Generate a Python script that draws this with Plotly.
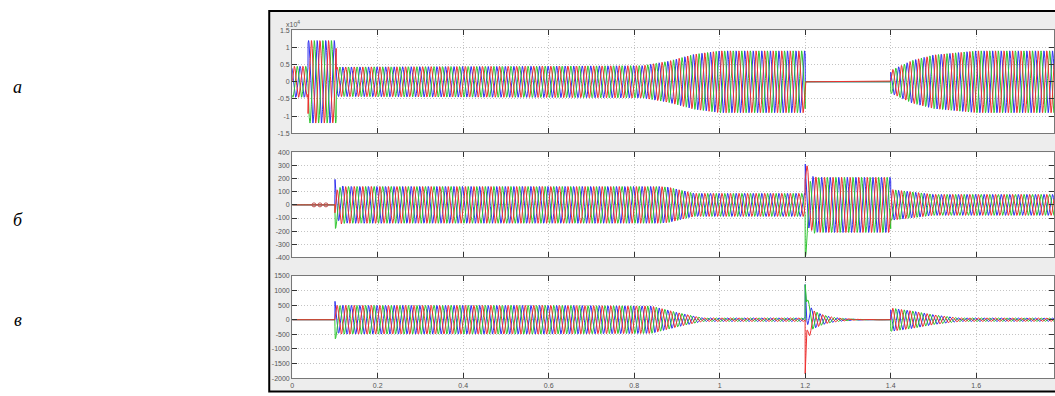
import numpy as np
import plotly.graph_objects as go

# ---------------- data ----------------
F_HZ = 50.0          # carrier frequency of the three-phase waves
T_END = 1.782        # right edge of the visible window (s)
DT = 0.0002

PHASE_NAMES = ["A", "B", "C"]
PHASE_COLORS = ["#ee3030", "#2fc62f", "#3030ee"]

# panel а: voltage, units of 10^4  (envelope breakpoints)
a_env_t = [0, 0.037, 0.0371, 0.103, 0.1031, 0.5, 0.82, 0.88, 0.94, 1.0, 1.2, 1.2001, 1.4, 1.4001, 1.45, 1.5, 1.6, 1.782]
a_env_v = [0.45, 0.45, 1.2, 1.2, 0.43, 0.45, 0.47, 0.6, 0.8, 0.9, 0.9, 0.0, 0.0, 0.33, 0.62, 0.78, 0.9, 0.9]

# panel б: current (envelope breakpoints)
b_env_t = [0, 0.1, 0.1001, 0.86, 0.88, 0.94, 1.2, 1.2001, 1.4, 1.4001, 1.5, 1.782]
b_env_v = [0, 0, 140, 140, 135, 88, 88, 210, 210, 118, 80, 80]
b_trans_t = [0.1, 1.2]
b_trans_r = [-60, 190]
b_trans_g = [-50, -220]
b_trans_b = [80, 140]
b_trans_tau = [0.006, 0.006]
b_marks_t = [0.051, 0.065, 0.079]

# panel в: current (envelope breakpoints)
c_env_t = [0, 0.1, 0.1001, 0.6, 0.84, 0.9, 0.96, 1.2, 1.2001, 1.4, 1.4001, 1.45, 1.5, 1.56, 1.782]
c_env_v = [0, 0, 490, 490, 470, 250, 60, 60, 0, 0, 400, 300, 170, 60, 55]
c_trans_t = [0.1, 1.2]
c_trans_r = [0, -1850]
c_trans_g = [-220, 1250]
c_trans_b = [230, 1150]
c_trans_tau = [0.004, 0.004]
c_ring_t = [1.2]
c_ring_amp = [560]
c_ring_tau = [0.035]

a_ticks = [-1.5, -1, -0.5, 0, 0.5, 1, 1.5]
a_ticktext = ["-1.5", "-1", "-0.5", "0", "0.5", "1", "1.5"]
b_ticks = [-400, -300, -200, -100, 0, 100, 200, 300, 400]
c_ticks = [-2000, -1500, -1000, -500, 0, 500, 1000, 1500]
x_ticks = [0, 0.2, 0.4, 0.6, 0.8, 1.0, 1.2, 1.4, 1.6]
x_ticktext = ["0", "0.2", "0.4", "0.6", "0.8", "1", "1.2", "1.4", "1.6"]
panel_labels = ["а", "б", "в"]

# ---------------- build waveforms ----------------
t = np.arange(0, T_END + DT / 2, DT)
w = 2 * np.pi * F_HZ


def waves(env_t, env_v, trans=None, ring=None):
    env = np.interp(t, env_t, env_v)
    out = []
    for k in range(3):
        ph = -2 * np.pi * k / 3
        y = env * np.sin(w * t + ph)
        if trans is not None:
            tt, peaks, taus = trans
            for i, t0 in enumerate(tt):
                m = t >= t0 - 1e-9
                y[m] += peaks[k][i] * np.exp(-(t[m] - t0) / taus[i])
        if ring is not None:
            rt, ramp, rtau = ring
            for i, t0 in enumerate(rt):
                m = t >= t0 - 1e-9
                y[m] += ramp[i] * np.exp(-(t[m] - t0) / rtau[i]) * np.sin(w * (t[m] - t0) + ph + 1.2) * np.clip((t[m] - t0) / 0.004, 0, 1)
        out.append(y)
    return out


ya = waves(a_env_t, a_env_v)
yb = waves(b_env_t, b_env_v, trans=(b_trans_t, [b_trans_r, b_trans_g, b_trans_b], b_trans_tau))
yc = waves(c_env_t, c_env_v,
           trans=(c_trans_t, [c_trans_r, c_trans_g, c_trans_b], c_trans_tau),
           ring=(c_ring_t, c_ring_amp, c_ring_tau))

W, H = 1055, 396


def px(x):
    return x / W


def py(y):
    return 1 - y / H


fig = go.Figure()
order = [2, 1, 0]  # red on top
for idx, ys in enumerate([ya, yb, yc]):
    sfx = "" if idx == 0 else str(idx + 1)
    for k in order:
        fig.add_trace(go.Scatter(x=t, y=ys[k], mode="lines",
                                 line=dict(color=PHASE_COLORS[k], width=1),
                                 xaxis="x" + sfx, yaxis="y" + sfx,
                                 showlegend=False, hoverinfo="skip"))

fig.add_trace(go.Scatter(x=b_marks_t, y=[0] * len(b_marks_t), mode="markers",
                         marker=dict(symbol="circle-open", size=4, color="#c05050", line=dict(width=1)),
                         xaxis="x2", yaxis="y2", showlegend=False, hoverinfo="skip"))

x_left = px(291)
panels = [(26.7, 131.7), (151, 258), (276.7, 381)]
yranges = [[-1.5, 1.5], [-400, 400], [-2000, 1500]]
ytv = [a_ticks, b_ticks, c_ticks]
ytt = [a_ticktext, [str(v) for v in b_ticks], [str(v) for v in c_ticks]]

tickfont = dict(family="Liberation Sans", size=7, color="#555")
layout = dict(width=W, height=H, autosize=False,
              margin=dict(l=0, r=0, t=0, b=0),
              paper_bgcolor="white", plot_bgcolor="rgba(0,0,0,0)")

grid = dict(showgrid=True, gridcolor="#c4c4c4", griddash="1px,2px", gridwidth=1)
for i in range(3):
    sfx = "" if i == 0 else str(i + 1)
    top, bot = panels[i]
    layout["xaxis" + sfx] = dict(domain=[x_left, 1.0], range=[0, T_END], anchor="y" + sfx,
                                 tickvals=x_ticks, ticktext=x_ticktext,
                                 showticklabels=(i == 2), ticks="inside", ticklen=5,
                                 tickcolor="#333", showline=True, linecolor="#777", linewidth=1,
                                 mirror="ticks", zeroline=False,
                                 tickfont=tickfont, fixedrange=True, **grid)
    layout["yaxis" + sfx] = dict(domain=[py(bot), py(top)], range=yranges[i], anchor="x" + sfx,
                                 tickvals=ytv[i], ticktext=ytt[i],
                                 ticks="inside", ticklen=5, tickcolor="#333",
                                 showline=True, linecolor="#777", linewidth=1, mirror="ticks",
                                 zeroline=False, tickfont=tickfont, fixedrange=True, **grid)

shapes = [dict(type="rect", xref="paper", yref="paper",
               x0=px(268), x1=1.02, y0=py(394.5), y1=py(7),
               fillcolor="#ededed", line=dict(color="black", width=2), layer="below")]
for top, bot in panels:
    shapes.append(dict(type="rect", xref="paper", yref="paper",
                       x0=x_left, x1=1.0, y0=py(bot), y1=py(top),
                       fillcolor="white", line=dict(width=0), layer="below"))
layout["shapes"] = shapes

annotations = [dict(text="x10<sup>4</sup>", xref="paper", yref="paper",
                    x=px(283), y=py(20), xanchor="left", yanchor="middle",
                    showarrow=False, font=dict(family="Liberation Sans", size=7, color="#555"))]
label_y = [85, 220, 322]
for lab, ly in zip(panel_labels, label_y):
    annotations.append(dict(text="<i>" + lab + "</i>", xref="paper", yref="paper",
                            x=px(16), y=py(ly), xanchor="center", yanchor="middle",
                            showarrow=False,
                            font=dict(family="Liberation Serif", size=18, color="black")))
layout["annotations"] = annotations

fig.update_layout(**layout)
fig.write_html("out.html", config={"displayModeBar": False},
               post_script="document.body.style.margin='0';document.body.style.overflow='hidden';")
